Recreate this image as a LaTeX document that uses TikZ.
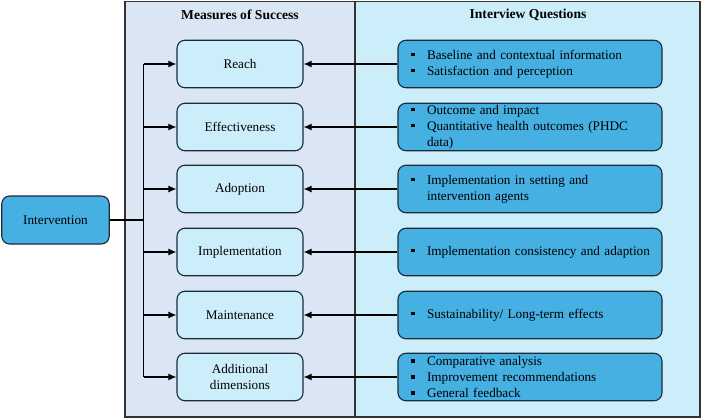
\documentclass[tikz,border=0pt]{standalone}
\usepackage{fontspec}
\setmainfont{Liberation Serif}
\usetikzlibrary{arrows.meta}
\definecolor{panelL}{HTML}{DAE6F4}
\definecolor{panelR}{HTML}{CCEEFB}
\definecolor{boxL}{HTML}{CCEEFB}
\definecolor{boxR}{HTML}{45B0E1}
\definecolor{edge}{HTML}{1C2B3A}
\definecolor{pedge}{HTML}{333333}
\newcommand{\bul}{\makebox[21pt][l]{\hspace*{5pt}\rule[2.8pt]{3.8pt}{3.8pt}}}
\newcommand{\ind}{\hspace*{21pt}}
\tikzset{
  panel/.style={draw=pedge, line width=1.4pt},
  head/.style={font=\fontsize{13.6}{15}\selectfont\bfseries, anchor=center},
  mbox/.style={draw=edge, line width=1.1pt, rounded corners=8pt, fill=boxL,
    minimum width=126pt, minimum height=47.5pt, inner sep=2pt, align=center,
    font=\fontsize{13.2}{16}\selectfont},
  qbox/.style={draw=edge, line width=1.1pt, rounded corners=8pt, fill=boxR,
    minimum width=264pt, minimum height=47.5pt, text width=248pt, inner xsep=8pt, inner ysep=1pt,
    align=left, font=\fontsize{13.2}{16}\selectfont},
  ibox/.style={draw=edge, line width=1.1pt, rounded corners=8pt, fill=boxR,
    minimum width=107.5pt, minimum height=48pt, align=center,
    font=\fontsize{13.2}{16}\selectfont},
  conn/.style={line width=1.3pt, draw=black},
  arr/.style={conn, -{Latex[length=8pt,width=7pt]}}
}
\begin{document}
\begin{tikzpicture}[x=1pt,y=-1pt]
\useasboundingbox (0,0) rectangle (702,420);
\fill[white] (0,0) rectangle (702,420);
\filldraw[panel, fill=panelL] (125,1.5) rectangle (355,417);
\filldraw[panel, fill=panelR] (355,1.5) rectangle (700,417);
\node[head] (hL) at (240,15) {Measures of Success};
\node[head] (hR) at (528,15) {Interview Questions};

\node[mbox] (L1) at (240,64) {Reach};
\node[mbox] (L2) at (240,127) {Effectiveness};
\node[mbox] (L3) at (240,189) {Adoption};
\node[mbox] (L4) at (240,252) {Implementation};
\node[mbox] (L5) at (240,315) {Maintenance};
\node[mbox] (L6) at (240,377) {Additional\\dimensions};

\node[qbox] (R1) at (530,64) {\bul Baseline and contextual information\\\bul Satisfaction and perception};
\node[qbox] (R2) at (530,127) {\bul Outcome and impact\\\bul Quantitative health outcomes (PHDC\\\ind data)};
\node[qbox] (R3) at (530,189) {\bul Implementation in setting and\\\ind intervention agents};
\node[qbox] (R4) at (530,252) {\bul Implementation consistency and adaption};
\node[qbox] (R5) at (530,315) {\bul Sustainability/ Long-term effects};
\node[qbox] (R6) at (530,377) {\bul Comparative analysis\\\bul Improvement recommendations\\\bul General feedback};

\node[ibox] (I) at (55.5,220) {Intervention};
\coordinate (t) at (143.5,220);

\draw[conn] (I.east) -- (t);
\draw[conn] (t |- L1.west) -- (t |- L6.west);
\foreach \i in {1,...,6}{
  \draw[arr] (t |- L\i.west) -- (L\i.west);
  \draw[arr] (R\i.west) -- (L\i.east);
}
\end{tikzpicture}
\end{document}
